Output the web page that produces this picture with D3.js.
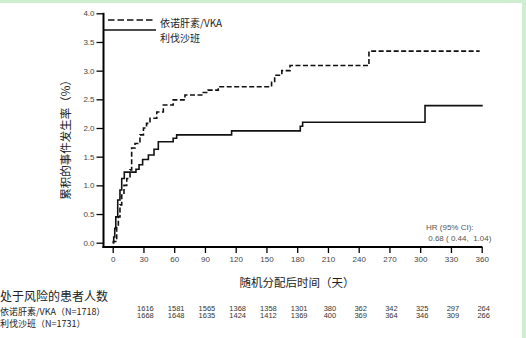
<!DOCTYPE html>
<html><head><meta charset="utf-8">
<script src="https://cdn.jsdelivr.net/npm/d3@7"></script>
<style>body{margin:0;background:#fff;} svg{display:block;}</style>
</head><body>
<svg id="c" width="526" height="338"></svg>
<script>
// ---- data ----
const seriesNames = ["依诺肝素/VKA", "利伐沙班"];
const enoxDays  = [0, 0.6, 3.9, 5.5, 7.1, 8.8, 11, 13.7, 16.9, 18.5, 21.8, 26.6, 30, 33, 36.4, 43, 49.4, 59, 70.5, 88.4, 93, 103, 155, 158, 165, 173, 250, 358];
const enoxRates = [0, 0.02, 0.28, 0.45, 0.66, 0.83, 1.0, 1.12, 1.27, 1.65, 1.73, 1.88, 2.0, 2.08, 2.17, 2.28, 2.4, 2.49, 2.575, 2.62, 2.66, 2.72, 2.81, 2.92, 3.0, 3.09, 3.34, 3.34];
const rivaDays  = [0, 1, 2, 3, 4.9, 7.1, 8.8, 11.3, 22.7, 25.7, 29.2, 34.8, 40.3, 44.5, 59, 62.4, 116, 183, 185.3, 304.7, 361];
const rivaRates = [0, 0.1, 0.25, 0.45, 0.745, 0.92, 1.12, 1.23, 1.28, 1.36, 1.45, 1.53, 1.63, 1.76, 1.82, 1.88, 1.95, 2.03, 2.1, 2.39, 2.39];
const xTicks = [0, 30, 60, 90, 120, 150, 180, 210, 240, 270, 300, 330, 360];
const yTicks = [0, 0.5, 1.0, 1.5, 2.0, 2.5, 3.0, 3.5, 4.0];
const riskDays = [30, 60, 90, 120, 150, 180, 210, 240, 270, 300, 330, 360];
const riskEnox = [1616, 1581, 1565, 1368, 1358, 1301, 380, 362, 342, 325, 297, 264];
const riskRiva = [1668, 1648, 1635, 1424, 1412, 1369, 400, 369, 364, 346, 309, 266];
const riskTitle = "处于风险的患者人数";
const riskLabels = ["依诺肝素/VKA（N=1718）", "利伐沙班（N=1731）"];
const yLabel = "累积的事件发生率（%）";
const xLabel = "随机分配后时间（天）";
const hrLines = ["HR (95% CI):", " 0.68 ( 0.44,  1.04)"];

// ---- drawing ----
const svg = d3.select("#c");
const num = "'Liberation Sans', Arial, sans-serif";
const cjk = "'Noto Sans CJK SC', sans-serif";

// frame decorations (light green border)
svg.append("rect").attr("x",0).attr("y",0).attr("width",526).attr("height",3).attr("fill","#cdeecf");
svg.append("rect").attr("x",522).attr("y",0).attr("width",4).attr("height",338).attr("fill","#cdeecf");

const x = d3.scaleLinear().domain([0,360]).range([112.7,481.7]);
const y = d3.scaleLinear().domain([0,4]).range([242.7,13.3]);
const axX = 103.5, axY = 247;

// y axis
const gy = svg.append("g").attr("transform",`translate(${axX},0)`)
  .call(d3.axisLeft(y).tickValues(yTicks).tickFormat(d3.format(".1f")).tickSize(7).tickPadding(2));
gy.select(".domain").remove();
gy.selectAll(".tick line").attr("stroke","#000").attr("stroke-width",1.3);
gy.selectAll(".tick text").attr("font-family",num).attr("font-size",8).attr("fill","#444");
svg.append("line").attr("x1",axX).attr("x2",axX).attr("y1",y(4)-0.5).attr("y2",axY+1)
  .attr("stroke","#000").attr("stroke-width",2);

// x axis
const gx = svg.append("g").attr("transform",`translate(0,${axY})`)
  .call(d3.axisBottom(x).tickValues(xTicks).tickFormat(d3.format("d")).tickSize(6).tickPadding(3));
gx.select(".domain").remove();
gx.selectAll(".tick line").attr("stroke","#000").attr("stroke-width",1.3);
gx.selectAll(".tick text").attr("font-family",num).attr("font-size",8).attr("fill","#444");
svg.append("line").attr("x1",axX-1).attr("x2",x(360)+0.7).attr("y1",axY).attr("y2",axY)
  .attr("stroke","#000").attr("stroke-width",2);

// curves
const line = d3.line().x(d=>x(d[0])).y(d=>y(d[1])).curve(d3.curveStepAfter);
const enox = enoxDays.map((d,i)=>[d,enoxRates[i]]);
const riva = rivaDays.map((d,i)=>[d,rivaRates[i]]);
svg.append("path").attr("d",line(riva)).attr("fill","none").attr("stroke","#111").attr("stroke-width",1.6);
svg.append("path").attr("d",line(enox)).attr("fill","none").attr("stroke","#111").attr("stroke-width",1.6)
  .attr("stroke-dasharray","5,2.5");

// legend
svg.append("line").attr("x1",108).attr("x2",154).attr("y1",20).attr("y2",20)
  .attr("stroke","#111").attr("stroke-width",1.6).attr("stroke-dasharray","6.5,3");
svg.append("line").attr("x1",103).attr("x2",156).attr("y1",30).attr("y2",30)
  .attr("stroke","#111").attr("stroke-width",1.6);
svg.append("text").attr("x",160).attr("y",27).text(seriesNames[0])
  .attr("font-family",cjk).attr("font-size",10).attr("fill","#222");
svg.append("text").attr("x",160).attr("y",42).text(seriesNames[1])
  .attr("font-family",cjk).attr("font-size",10).attr("fill","#222");

// HR annotation
hrLines.forEach((t,i)=>{
  svg.append("text").attr("x",426).attr("y",230+i*11).text(t)
    .style("white-space","pre")
    .attr("font-family",num).attr("font-size",8).attr("fill","#555");
});

// axis labels
svg.append("text").attr("transform","translate(70,137) rotate(-90)").attr("text-anchor","middle")
  .text(yLabel).attr("font-family",cjk).attr("font-size",11.5).attr("fill","#222");
svg.append("text").attr("x",297).attr("y",287).attr("text-anchor","middle")
  .text(xLabel).attr("font-family",cjk).attr("font-size",11.5).attr("fill","#222");

// risk table
svg.append("text").attr("x",0).attr("y",300.5).text(riskTitle)
  .attr("font-family",cjk).attr("font-size",12).attr("fill","#222");
riskLabels.forEach((t,i)=>{
  svg.append("text").attr("x",0).attr("y",315+i*11.5).text(t)
    .attr("font-family",cjk).attr("font-size",9).attr("fill","#222");
});
[riskEnox, riskRiva].forEach((row,i)=>{
  svg.append("g").selectAll("text").data(row).join("text")
    .attr("x",(d,j)=>x(riskDays[j])+2).attr("y",310.5+i*7.5).attr("text-anchor","middle")
    .text(d=>d).attr("font-family",num).attr("font-size",7.5).attr("fill","#333");
});
</script>
</body></html>
